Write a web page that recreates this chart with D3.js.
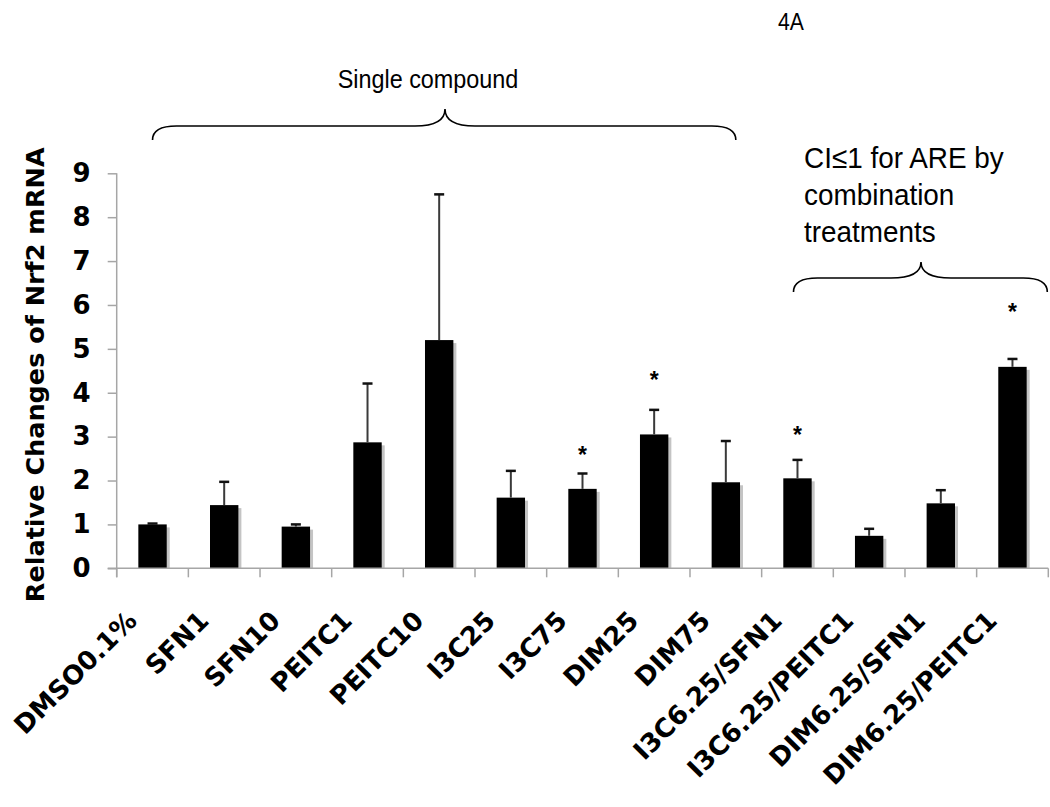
<!DOCTYPE html>
<html>
<head>
<meta charset="utf-8">
<script src="https://cdn.jsdelivr.net/npm/d3@7"></script>
<style>
  html, body { margin: 0; padding: 0; background: #fff; }
  svg { display: block; }
</style>
</head>
<body>
<svg id="chart" width="1050" height="807"></svg>
<script>
// ---- data ----
const categories = ["DMSO0.1%", "SFN1", "SFN10", "PEITC1", "PEITC10", "I3C25", "I3C75",
  "DIM25", "DIM75", "I3C6.25/SFN1", "I3C6.25/PEITC1", "DIM6.25/SFN1", "DIM6.25/PEITC1"];
const means  = [1.00, 1.44, 0.95, 2.87, 5.20, 1.61, 1.81, 3.05, 1.96, 2.05, 0.74, 1.48, 4.59];
const errors = [0.02, 0.53, 0.05, 1.34, 3.32, 0.61, 0.35, 0.56, 0.94, 0.42, 0.16, 0.30, 0.18];
// height (in axis units) of the significance asterisk, null = none
const starLevels = [null, null, null, null, null, null, 2.70, 4.40, null, 3.16, null, null, 5.96];
const yTicks = [0, 1, 2, 3, 4, 5, 6, 7, 8, 9];
const yTitle = "Relative Changes of Nrf2 mRNA";
const panelLabel = "4A";
const groupSingle = "Single compound";
const groupCombo = ["CI\u22641 for ARE by", "combination", "treatments"];

// ---- layout ----
const svg = d3.select("#chart");
const x0 = 116.7, x1 = 1048.3, yBase = 568.3, yTop = 173.3;

const x = d3.scaleBand().domain(categories).range([x0, x1]).paddingInner(0).paddingOuter(0);
const y = d3.scaleLinear().domain([0, 9]).range([yBase, yTop]);
const bw = x.bandwidth();
const barW = bw * 0.396;
const cx = c => x(c) + bw / 2;

const AXIS = "#a6a6a6";
const TICKFONT = "'DejaVu Sans', Verdana, sans-serif";
const TEXTFONT = "'Liberation Sans', Arial, Helvetica, sans-serif";

// bar shadows
svg.append("g").selectAll("rect").data(categories).join("rect")
  .attr("x", (c) => cx(c) - barW / 2 + 3)
  .attr("y", (c, i) => y(means[i]) + 3)
  .attr("width", barW)
  .attr("height", (c, i) => Math.max(0, yBase - y(means[i]) - 3))
  .attr("fill", "#c4c4c4");

// bars
svg.append("g").selectAll("rect").data(categories).join("rect")
  .attr("x", (c) => cx(c) - barW / 2)
  .attr("y", (c, i) => y(means[i]))
  .attr("width", barW)
  .attr("height", (c, i) => yBase - y(means[i]))
  .attr("fill", "#000");

// error bars (upper only)
const eg = svg.append("g");
eg.selectAll("line.stem").data(categories).join("line")
  .attr("class", "stem")
  .attr("x1", c => cx(c)).attr("x2", c => cx(c))
  .attr("y1", (c, i) => y(means[i]))
  .attr("y2", (c, i) => y(means[i] + errors[i]))
  .attr("stroke", "#3a3a3a").attr("stroke-width", 2);
eg.selectAll("line.cap").data(categories).join("line")
  .attr("class", "cap")
  .attr("x1", c => cx(c) - 5).attr("x2", c => cx(c) + 5)
  .attr("y1", (c, i) => y(means[i] + errors[i]))
  .attr("y2", (c, i) => y(means[i] + errors[i]))
  .attr("stroke", "#111").attr("stroke-width", 2.5);

// asterisks
svg.append("g").selectAll("text").data(categories.filter((c, i) => starLevels[i] !== null)).join("text")
  .attr("x", c => cx(c))
  .attr("y", c => y(starLevels[categories.indexOf(c)]) + 13)
  .attr("text-anchor", "middle")
  .attr("font-family", TEXTFONT).attr("font-weight", "bold").attr("font-size", 23)
  .text("*");

// y axis
const yAxis = svg.append("g").attr("transform", `translate(${x0},0)`)
  .call(d3.axisLeft(y).tickValues(yTicks).tickFormat(d3.format("d")).tickSize(9).tickPadding(17));
yAxis.select(".domain").remove();
yAxis.selectAll(".tick line").attr("stroke", AXIS).attr("stroke-width", 1.5);
yAxis.selectAll(".tick text")
  .attr("font-family", TICKFONT).attr("font-weight", "bold").attr("font-size", 26).attr("fill", "#000");
svg.append("line").attr("x1", x0).attr("x2", x0).attr("y1", yTop).attr("y2", yBase + 9)
  .attr("stroke", AXIS).attr("stroke-width", 1.5);

// x axis
const xAxisG = svg.append("g");
xAxisG.append("line").attr("x1", x0 - 9).attr("x2", x1).attr("y1", yBase).attr("y2", yBase)
  .attr("stroke", AXIS).attr("stroke-width", 1.5);
const boundaries = categories.map(c => x(c)).concat([x1]);
xAxisG.selectAll("line.tk").data(boundaries).join("line")
  .attr("class", "tk")
  .attr("x1", d => d).attr("x2", d => d).attr("y1", yBase).attr("y2", yBase + 9)
  .attr("stroke", AXIS).attr("stroke-width", 1.5);
xAxisG.selectAll("text").data(categories).join("text")
  .attr("transform", c => `translate(${cx(c) - 14},${yBase + 54}) rotate(-45)`)
  .attr("text-anchor", "end")
  .attr("font-family", TICKFONT).attr("font-weight", "bold").attr("font-size", 26)
  .text(c => c);

// y title
svg.append("text")
  .attr("transform", `translate(44,${(yTop + yBase) / 2 + 4}) rotate(-90)`)
  .attr("text-anchor", "middle")
  .attr("font-family", TICKFONT).attr("font-weight", "bold").attr("font-size", 25.5)
  .text(yTitle);

// panel label
svg.append("text").attr("transform", "translate(778,30) scale(0.92,1)")
  .attr("font-family", TEXTFONT).attr("font-size", 23).text(panelLabel);

// braces
function brace(xa, xb, xm, yEnd, yH, yC) {
  const r = 24, r2 = 30;
  return `M${xa},${yEnd} Q${xa},${yH} ${xa + r},${yH} L${xm - r2},${yH} Q${xm},${yH} ${xm},${yC}`
    + ` Q${xm},${yH} ${xm + r2},${yH} L${xb - r},${yH} Q${xb},${yH} ${xb},${yEnd}`;
}
const b1a = cx(categories[0]), b1b = cx(categories[8]) + 10;
svg.append("path").attr("d", brace(b1a, b1b, 445, 140, 126, 109))
  .attr("fill", "none").attr("stroke", "#000").attr("stroke-width", 1.6);
svg.append("text").attr("transform", "translate(428,88) scale(0.9,1)").attr("text-anchor", "middle")
  .attr("font-family", TEXTFONT).attr("font-size", 26).text(groupSingle);

const b2a = cx(categories[9]) - 4, b2b = x1 - 1;
svg.append("path").attr("d", brace(b2a, b2b, 921, 292, 278, 262))
  .attr("fill", "none").attr("stroke", "#000").attr("stroke-width", 1.6);
svg.append("g").selectAll("text").data(groupCombo).join("text")
  .attr("transform", (d, i) => `translate(804,${168 + i * 37}) scale(0.93,1)`)
  .attr("font-family", TEXTFONT).attr("font-size", 30).text(d => d);
</script>
</body>
</html>
